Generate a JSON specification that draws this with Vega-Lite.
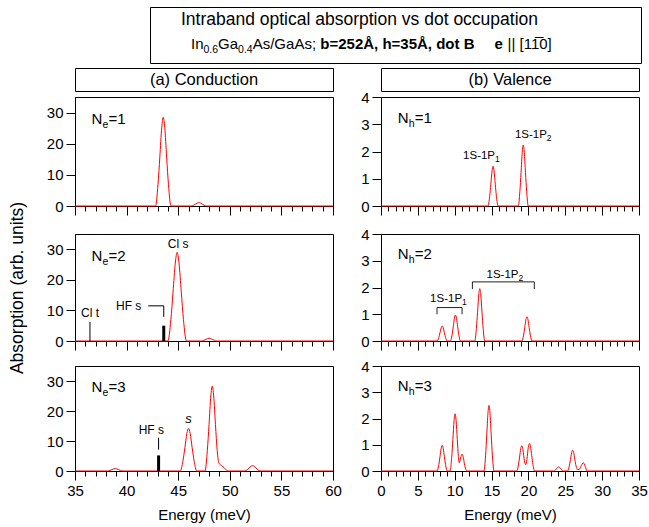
{
"$schema": "https://vega.github.io/schema/vega-lite/v6.json",
"padding": {"left": 7, "top": 6, "right": 5, "bottom": 5},
"background": "white",
"config": {
  "font": "Liberation Sans",
  "view": {"stroke": "#000", "strokeWidth": 1},
  "axis": {"domainColor": "#000", "tickColor": "#000", "labelColor": "#000", "titleColor": "#000", "grid": false, "labelFontSize": 15, "titleFontSize": 15, "titleFontWeight": "normal", "labelPadding": 3, "labelFlush": false},
  "text": {"color": "#000"}
},
"datasets": {
  "c1": [{"E":35,"A":0},{"E":42.8,"A":0},{"E":43.04,"A":6.8},{"E":43.22,"A":15.7},{"E":43.4,"A":25.1},{"E":43.55,"A":28.5},{"E":43.7,"A":25.1},{"E":43.88,"A":15.7},{"E":44.06,"A":6.8},{"E":44.3,"A":0},{"E":46.25,"A":0},{"E":46.49,"A":0.26},{"E":46.67,"A":0.6},{"E":46.85,"A":0.97},{"E":47.0,"A":1.1},{"E":47.15,"A":0.97},{"E":47.33,"A":0.6},{"E":47.51,"A":0.26},{"E":47.75,"A":0},{"E":60,"A":0}],
  "c2": [{"E":35,"A":0},{"E":44.0,"A":0},{"E":44.29,"A":7.0},{"E":44.5,"A":16.0},{"E":44.72,"A":25.5},{"E":44.9,"A":29},{"E":45.08,"A":25.5},{"E":45.3,"A":16.0},{"E":45.51,"A":7.0},{"E":45.8,"A":0},{"E":47.25,"A":0},{"E":47.49,"A":0.22},{"E":47.67,"A":0.5},{"E":47.85,"A":0.79},{"E":48.0,"A":0.9},{"E":48.15,"A":0.79},{"E":48.33,"A":0.5},{"E":48.51,"A":0.22},{"E":48.75,"A":0},{"E":60,"A":0}],
  "c3": [{"E":35,"A":0},{"E":38.15,"A":0},{"E":38.39,"A":0.19},{"E":38.57,"A":0.44},{"E":38.75,"A":0.7},{"E":38.9,"A":0.8},{"E":39.05,"A":0.7},{"E":39.23,"A":0.44},{"E":39.41,"A":0.19},{"E":39.65,"A":0},{"E":45.2,"A":0},{"E":45.46,"A":3.4},{"E":45.65,"A":7.8},{"E":45.84,"A":12.5},{"E":46.0,"A":14.2},{"E":46.16,"A":12.5},{"E":46.35,"A":7.8},{"E":46.54,"A":3.4},{"E":46.8,"A":0},{"E":47.6,"A":0},{"E":47.82,"A":6.8},{"E":47.99,"A":15.5},{"E":48.16,"A":25.0},{"E":48.3,"A":28.3},{"E":48.44,"A":25.0},{"E":48.61,"A":15.5},{"E":48.78,"A":6.8},{"E":48.95,"A":2.6},{"E":49.2,"A":1.8},{"E":49.5,"A":0.9},{"E":49.85,"A":0},{"E":51.45,"A":0},{"E":51.69,"A":0.43},{"E":51.87,"A":0.99},{"E":52.05,"A":1.58},{"E":52.2,"A":1.8},{"E":52.35,"A":1.58},{"E":52.53,"A":0.99},{"E":52.71,"A":0.43},{"E":52.95,"A":0},{"E":60,"A":0}],
  "v1": [{"E":0,"A":0},{"E":14.52,"A":0},{"E":14.74,"A":0.35},{"E":14.9,"A":0.8},{"E":15.06,"A":1.28},{"E":15.2,"A":1.46},{"E":15.34,"A":1.28},{"E":15.5,"A":0.8},{"E":15.66,"A":0.35},{"E":15.88,"A":0},{"E":18.62,"A":0},{"E":18.84,"A":0.54},{"E":19.0,"A":1.23},{"E":19.16,"A":1.97},{"E":19.3,"A":2.24},{"E":19.44,"A":1.97},{"E":19.6,"A":1.23},{"E":19.76,"A":0.54},{"E":19.98,"A":0},{"E":35,"A":0}],
  "v2": [{"E":0,"A":0},{"E":7.62,"A":0},{"E":7.84,"A":0.13},{"E":8.0,"A":0.31},{"E":8.16,"A":0.49},{"E":8.3,"A":0.56},{"E":8.44,"A":0.49},{"E":8.6,"A":0.31},{"E":8.76,"A":0.13},{"E":8.98,"A":0},{"E":9.42,"A":0},{"E":9.64,"A":0.23},{"E":9.8,"A":0.53},{"E":9.96,"A":0.85},{"E":10.1,"A":0.97},{"E":10.24,"A":0.85},{"E":10.4,"A":0.53},{"E":10.56,"A":0.23},{"E":10.78,"A":0},{"E":12.72,"A":0},{"E":12.94,"A":0.47},{"E":13.1,"A":1.08},{"E":13.26,"A":1.72},{"E":13.4,"A":1.96},{"E":13.54,"A":1.72},{"E":13.7,"A":1.08},{"E":13.86,"A":0.47},{"E":14.08,"A":0},{"E":19.12,"A":0},{"E":19.34,"A":0.22},{"E":19.5,"A":0.5},{"E":19.66,"A":0.8},{"E":19.8,"A":0.91},{"E":19.94,"A":0.8},{"E":20.1,"A":0.5},{"E":20.26,"A":0.22},{"E":20.48,"A":0},{"E":35,"A":0}],
  "v3": [{"E":0,"A":0},{"E":7.62,"A":0},{"E":7.84,"A":0.24},{"E":8.0,"A":0.54},{"E":8.16,"A":0.86},{"E":8.3,"A":0.98},{"E":8.44,"A":0.86},{"E":8.6,"A":0.54},{"E":8.76,"A":0.24},{"E":8.98,"A":0},{"E":9.37,"A":0},{"E":9.59,"A":0.52},{"E":9.75,"A":1.2},{"E":9.91,"A":1.92},{"E":10.05,"A":2.18},{"E":10.19,"A":1.92},{"E":10.35,"A":1.2},{"E":10.5,"A":0.55},{"E":10.62,"A":0.31},{"E":10.8,"A":0.5},{"E":11.0,"A":0.64},{"E":11.16,"A":0.52},{"E":11.32,"A":0.27},{"E":11.5,"A":0.07},{"E":11.7,"A":0},{"E":13.97,"A":0},{"E":14.19,"A":0.6},{"E":14.35,"A":1.38},{"E":14.51,"A":2.2},{"E":14.65,"A":2.5},{"E":14.79,"A":2.2},{"E":14.95,"A":1.38},{"E":15.11,"A":0.6},{"E":15.33,"A":0},{"E":18.42,"A":0},{"E":18.64,"A":0.23},{"E":18.8,"A":0.53},{"E":18.96,"A":0.85},{"E":19.1,"A":0.96},{"E":19.26,"A":0.8},{"E":19.45,"A":0.4},{"E":19.62,"A":0.24},{"E":19.8,"A":0.45},{"E":19.98,"A":0.9},{"E":20.15,"A":1.05},{"E":20.29,"A":0.92},{"E":20.45,"A":0.58},{"E":20.61,"A":0.25},{"E":20.83,"A":0},{"E":23.42,"A":0},{"E":23.7,"A":0.05},{"E":23.9,"A":0.12},{"E":24.1,"A":0.15},{"E":24.3,"A":0.12},{"E":24.5,"A":0.05},{"E":24.78,"A":0},{"E":25.32,"A":0},{"E":25.54,"A":0.19},{"E":25.7,"A":0.43},{"E":25.86,"A":0.7},{"E":26.0,"A":0.79},{"E":26.14,"A":0.7},{"E":26.3,"A":0.43},{"E":26.46,"A":0.19},{"E":26.7,"A":0.05},{"E":26.9,"A":0.06},{"E":27.15,"A":0.2},{"E":27.45,"A":0.31},{"E":27.7,"A":0.18},{"E":27.95,"A":0},{"E":35,"A":0}]
},
"bounds": "full",
"spacing": 3,
"vconcat": [
 {"bounds": "flush", "spacing": 48, "hconcat": [
  {"width": 27, "height": 56, "view": {"stroke": null, "fill": "white"}, "data": {"values": [{"t": ""}]}, "mark": "text", "encoding": {"text": {"field": "t"}}},
  {"width": 491, "height": 56, "view": {"style": "cell", "stroke": "#000", "strokeWidth": 1},
   "data": {"values": [{"l1": "Intraband optical absorption vs dot occupation", "a": "In", "b": "0.6", "c": "Ga", "d": "0.4", "e": "As/GaAs;", "f": "b=252Å, h=35Å, dot B", "g": "e", "h": "||", "i": "[11̅0]"}]},
   "layer": [
     {"mark": {"type": "text", "fontSize": 17.5, "align": "center", "baseline": "alphabetic", "dx": -36, "dy": -10}, "encoding": {"text": {"field": "l1"}}},
     {"mark": {"type": "text", "fontSize": 15, "align": "left", "baseline": "alphabetic", "dx": -204.5, "dy": 14.4}, "encoding": {"text": {"field": "a"}}},
     {"mark": {"type": "text", "fontSize": 10.5, "align": "left", "baseline": "alphabetic", "dx": -192, "dy": 18.4}, "encoding": {"text": {"field": "b"}}},
     {"mark": {"type": "text", "fontSize": 15, "align": "left", "baseline": "alphabetic", "dx": -177.4, "dy": 14.4}, "encoding": {"text": {"field": "c"}}},
     {"mark": {"type": "text", "fontSize": 10.5, "align": "left", "baseline": "alphabetic", "dx": -157.4, "dy": 18.4}, "encoding": {"text": {"field": "d"}}},
     {"mark": {"type": "text", "fontSize": 15, "align": "left", "baseline": "alphabetic", "dx": -142.8, "dy": 14.4}, "encoding": {"text": {"field": "e"}}},
     {"mark": {"type": "text", "fontSize": 15, "fontWeight": "bold", "align": "left", "baseline": "alphabetic", "dx": -75.2, "dy": 14.4}, "encoding": {"text": {"field": "f"}}},
     {"mark": {"type": "text", "fontSize": 15, "fontWeight": "bold", "align": "left", "baseline": "alphabetic", "dx": 99, "dy": 14.4}, "encoding": {"text": {"field": "g"}}},
     {"mark": {"type": "text", "fontSize": 15, "align": "left", "baseline": "alphabetic", "dx": 112, "dy": 14.4}, "encoding": {"text": {"field": "h"}}},
     {"mark": {"type": "text", "fontSize": 15, "align": "left", "baseline": "alphabetic", "dx": 124, "dy": 14.4}, "encoding": {"text": {"field": "i"}}}
   ]}
 ]},
 {"bounds": "flush", "columns": 2, "spacing": {"row": 6, "column": 48},
  "concat": [
  {"width": 258, "height": 23, "view": {"style": "cell", "stroke": "#000", "strokeWidth": 1}, "data": {"values": [{"t": "(a) Conduction"}]}, "mark": {"type": "text", "fontSize": 16.5, "baseline": "middle"}, "encoding": {"text": {"field": "t"}}},
  {"width": 258, "height": 23, "view": {"style": "cell", "stroke": "#000", "strokeWidth": 1}, "data": {"values": [{"t": "(b) Valence"}]}, "mark": {"type": "text", "fontSize": 16.5, "baseline": "middle"}, "encoding": {"text": {"field": "t"}}},
  {"width": 258, "height": 109,
   "encoding": {
     "x": {"field": "E", "type": "quantitative", "scale": {"domain": [35, 60], "nice": false, "zero": false}, "axis": {"values": [35,36,37,38,39,40,41,42,43,44,45,46,47,48,49,50,51,52,53,54,55,56,57,58,59,60], "labels": false, "title": null, "tickSize": {"condition": {"test": "datum.value % 5 === 0", "value": 9}, "value": 5}}},
     "y": {"field": "A", "type": "quantitative", "scale": {"domain": [0, 35], "nice": false}, "axis": {"values": [0,10,20,30], "tickSize": 9, "title": null}}
   },
   "layer": [
     {"data": {"name": "c1"}, "mark": {"type": "line", "color": "#ff0000", "strokeWidth": 1, "interpolate": "monotone"}},
     {"data": {"values": [{"E": 36.6, "A": 26.3, "s": "e", "n": "=1"}]}, "layer": [
       {"mark": {"type": "text", "align": "left", "baseline": "alphabetic", "fontSize": 15}, "encoding": {"text": {"value": "N"}}},
       {"mark": {"type": "text", "align": "left", "baseline": "alphabetic", "fontSize": 10.5, "dx": 11, "dy": 4}, "encoding": {"text": {"field": "s"}}},
       {"mark": {"type": "text", "align": "left", "baseline": "alphabetic", "fontSize": 15, "dx": 17}, "encoding": {"text": {"field": "n"}}}
     ]}
   ]},
  {"width": 258, "height": 109,
   "encoding": {
     "x": {"field": "E", "type": "quantitative", "scale": {"domain": [0, 35], "nice": false, "zero": false}, "axis": {"values": [0,1,2,3,4,5,6,7,8,9,10,11,12,13,14,15,16,17,18,19,20,21,22,23,24,25,26,27,28,29,30,31,32,33,34,35], "labels": false, "title": null, "tickSize": {"condition": {"test": "datum.value % 5 === 0", "value": 9}, "value": 5}}},
     "y": {"field": "A", "type": "quantitative", "scale": {"domain": [0, 4], "nice": false}, "axis": {"values": [0,1,2,3,4], "tickSize": 9, "title": null}}
   },
   "layer": [
     {"data": {"name": "v1"}, "mark": {"type": "line", "color": "#ff0000", "strokeWidth": 1, "interpolate": "monotone"}},
     {"data": {"values": [{"E": 15.47, "A": 1.71, "s": "1"}, {"E": 22.5, "A": 2.49, "s": "2"}]}, "layer": [
       {"mark": {"type": "text", "align": "right", "baseline": "alphabetic", "fontSize": 11.5}, "encoding": {"text": {"value": "1S-1P"}}},
       {"mark": {"type": "text", "align": "left", "baseline": "alphabetic", "fontSize": 8.5, "dy": 3}, "encoding": {"text": {"field": "s"}}}
     ]},
     {"data": {"values": [{"E": 2.27, "A": 3.05, "s": "h", "n": "=1"}]}, "layer": [
       {"mark": {"type": "text", "align": "left", "baseline": "alphabetic", "fontSize": 15}, "encoding": {"text": {"value": "N"}}},
       {"mark": {"type": "text", "align": "left", "baseline": "alphabetic", "fontSize": 10.5, "dx": 11, "dy": 4}, "encoding": {"text": {"field": "s"}}},
       {"mark": {"type": "text", "align": "left", "baseline": "alphabetic", "fontSize": 15, "dx": 17}, "encoding": {"text": {"field": "n"}}}
     ]}
   ]},
  {"width": 258, "height": 16, "view": {"stroke": null}, "data": {"values": [{"t": ""}]}, "mark": "text", "encoding": {"text": {"field": "t"}}},
  {"width": 258, "height": 16, "view": {"stroke": null}, "data": {"values": [{"t": ""}]}, "mark": "text", "encoding": {"text": {"field": "t"}}},
  {"width": 258, "height": 107,
   "encoding": {
     "x": {"field": "E", "type": "quantitative", "scale": {"domain": [35, 60], "nice": false, "zero": false}, "axis": {"values": [35,36,37,38,39,40,41,42,43,44,45,46,47,48,49,50,51,52,53,54,55,56,57,58,59,60], "labels": false, "title": null, "tickSize": {"condition": {"test": "datum.value % 5 === 0", "value": 9}, "value": 5}}},
     "y": {"field": "A", "type": "quantitative", "scale": {"domain": [0, 35], "nice": false}, "axis": {"values": [0,10,20,30], "tickSize": 9, "title": "Absorption (arb. units)", "titleFontSize": 17.5, "titlePadding": 20}}
   },
   "layer": [
     {"data": {"name": "c2"}, "mark": {"type": "line", "color": "#ff0000", "strokeWidth": 1, "interpolate": "monotone"}},
     {"data": {"values": [{"E": 43.6, "A": 0, "E2": 43.6, "A2": 5}]}, "mark": {"type": "rule", "color": "#000", "strokeWidth": 3}, "encoding": {"x2": {"field": "E2"}, "y2": {"field": "A2"}}},
     {"data": {"values": [{"E": 36.45, "A": 0, "E2": 36.45, "A2": 6.2}, {"E": 42.1, "A": 11.5, "E2": 43.6, "A2": 11.5}, {"E": 43.6, "A": 11.5, "E2": 43.6, "A2": 7.9}]}, "mark": {"type": "rule", "color": "#000", "strokeWidth": 1}, "encoding": {"x2": {"field": "E2"}, "y2": {"field": "A2"}}},
     {"data": {"values": [{"E": 45.0, "A": 30.3, "t": "Cl s"}, {"E": 36.45, "A": 7.9, "t": "Cl t"}, {"E": 40.2, "A": 10.2, "t": "HF s"}]}, "mark": {"type": "text", "align": "center", "baseline": "alphabetic", "fontSize": 12}, "encoding": {"text": {"field": "t"}}},
     {"data": {"values": [{"E": 36.6, "A": 26.3, "s": "e", "n": "=2"}]}, "layer": [
       {"mark": {"type": "text", "align": "left", "baseline": "alphabetic", "fontSize": 15}, "encoding": {"text": {"value": "N"}}},
       {"mark": {"type": "text", "align": "left", "baseline": "alphabetic", "fontSize": 10.5, "dx": 11, "dy": 4}, "encoding": {"text": {"field": "s"}}},
       {"mark": {"type": "text", "align": "left", "baseline": "alphabetic", "fontSize": 15, "dx": 17}, "encoding": {"text": {"field": "n"}}}
     ]}
   ]},
  {"width": 258, "height": 107,
   "encoding": {
     "x": {"field": "E", "type": "quantitative", "scale": {"domain": [0, 35], "nice": false, "zero": false}, "axis": {"values": [0,1,2,3,4,5,6,7,8,9,10,11,12,13,14,15,16,17,18,19,20,21,22,23,24,25,26,27,28,29,30,31,32,33,34,35], "labels": false, "title": null, "tickSize": {"condition": {"test": "datum.value % 5 === 0", "value": 9}, "value": 5}}},
     "y": {"field": "A", "type": "quantitative", "scale": {"domain": [0, 4], "nice": false}, "axis": {"values": [0,1,2,3,4], "tickSize": 9, "title": null}}
   },
   "layer": [
     {"data": {"name": "v2"}, "mark": {"type": "line", "color": "#ff0000", "strokeWidth": 1, "interpolate": "monotone"}},
     {"data": {"values": [{"E": 7.6, "A": 1.25, "E2": 11.0, "A2": 1.25}, {"E": 7.6, "A": 1.0, "E2": 7.6, "A2": 1.25}, {"E": 11.0, "A": 1.0, "E2": 11.0, "A2": 1.25}, {"E": 12.4, "A": 2.21, "E2": 20.8, "A2": 2.21}, {"E": 12.4, "A": 1.94, "E2": 12.4, "A2": 2.21}, {"E": 20.8, "A": 1.94, "E2": 20.8, "A2": 2.21}]}, "mark": {"type": "rule", "color": "#222", "strokeWidth": 1}, "encoding": {"x2": {"field": "E2"}, "y2": {"field": "A2"}}},
     {"data": {"values": [{"E": 11.0, "A": 1.44, "s": "1"}, {"E": 18.65, "A": 2.37, "s": "2"}]}, "layer": [
       {"mark": {"type": "text", "align": "right", "baseline": "alphabetic", "fontSize": 11.5}, "encoding": {"text": {"value": "1S-1P"}}},
       {"mark": {"type": "text", "align": "left", "baseline": "alphabetic", "fontSize": 8.5, "dy": 3}, "encoding": {"text": {"field": "s"}}}
     ]},
     {"data": {"values": [{"E": 2.27, "A": 3.05, "s": "h", "n": "=2"}]}, "layer": [
       {"mark": {"type": "text", "align": "left", "baseline": "alphabetic", "fontSize": 15}, "encoding": {"text": {"value": "N"}}},
       {"mark": {"type": "text", "align": "left", "baseline": "alphabetic", "fontSize": 10.5, "dx": 11, "dy": 4}, "encoding": {"text": {"field": "s"}}},
       {"mark": {"type": "text", "align": "left", "baseline": "alphabetic", "fontSize": 15, "dx": 17}, "encoding": {"text": {"field": "n"}}}
     ]}
   ]},
  {"width": 258, "height": 13, "view": {"stroke": null}, "data": {"values": [{"t": ""}]}, "mark": "text", "encoding": {"text": {"field": "t"}}},
  {"width": 258, "height": 13, "view": {"stroke": null}, "data": {"values": [{"t": ""}]}, "mark": "text", "encoding": {"text": {"field": "t"}}},
  {"width": 258, "height": 105,
   "encoding": {
     "x": {"field": "E", "type": "quantitative", "scale": {"domain": [35, 60], "nice": false, "zero": false}, "axis": {"values": [35,36,37,38,39,40,41,42,43,44,45,46,47,48,49,50,51,52,53,54,55,56,57,58,59,60], "labelExpr": "datum.value % 5 === 0 ? datum.label : ''", "labelOverlap": false, "title": "Energy (meV)", "titlePadding": 9, "tickSize": {"condition": {"test": "datum.value % 5 === 0", "value": 9}, "value": 5}}},
     "y": {"field": "A", "type": "quantitative", "scale": {"domain": [0, 35], "nice": false}, "axis": {"values": [0,10,20,30], "tickSize": 9, "title": null}}
   },
   "layer": [
     {"data": {"name": "c3"}, "mark": {"type": "line", "color": "#ff0000", "strokeWidth": 1, "interpolate": "monotone"}},
     {"data": {"values": [{"E": 43.1, "A": 0, "E2": 43.1, "A2": 5.2}]}, "mark": {"type": "rule", "color": "#000", "strokeWidth": 3}, "encoding": {"x2": {"field": "E2"}, "y2": {"field": "A2"}}},
     {"data": {"values": [{"E": 43.1, "A": 7.1, "E2": 43.1, "A2": 11.1}]}, "mark": {"type": "rule", "color": "#000", "strokeWidth": 1}, "encoding": {"x2": {"field": "E2"}, "y2": {"field": "A2"}}},
     {"data": {"values": [{"E": 42.4, "A": 12.5, "t": "HF s"}]}, "mark": {"type": "text", "align": "center", "baseline": "alphabetic", "fontSize": 12}, "encoding": {"text": {"field": "t"}}},
     {"data": {"values": [{"E": 46.0, "A": 16.0, "t": "s"}]}, "mark": {"type": "text", "align": "center", "baseline": "alphabetic", "fontSize": 13, "fontStyle": "italic"}, "encoding": {"text": {"field": "t"}}},
     {"data": {"values": [{"E": 36.6, "A": 26.3, "s": "e", "n": "=3"}]}, "layer": [
       {"mark": {"type": "text", "align": "left", "baseline": "alphabetic", "fontSize": 15}, "encoding": {"text": {"value": "N"}}},
       {"mark": {"type": "text", "align": "left", "baseline": "alphabetic", "fontSize": 10.5, "dx": 11, "dy": 4}, "encoding": {"text": {"field": "s"}}},
       {"mark": {"type": "text", "align": "left", "baseline": "alphabetic", "fontSize": 15, "dx": 17}, "encoding": {"text": {"field": "n"}}}
     ]}
   ]},
  {"width": 258, "height": 105,
   "encoding": {
     "x": {"field": "E", "type": "quantitative", "scale": {"domain": [0, 35], "nice": false, "zero": false}, "axis": {"values": [0,1,2,3,4,5,6,7,8,9,10,11,12,13,14,15,16,17,18,19,20,21,22,23,24,25,26,27,28,29,30,31,32,33,34,35], "labelExpr": "datum.value % 5 === 0 ? datum.label : ''", "labelOverlap": false, "title": "Energy (meV)", "titlePadding": 9, "tickSize": {"condition": {"test": "datum.value % 5 === 0", "value": 9}, "value": 5}}},
     "y": {"field": "A", "type": "quantitative", "scale": {"domain": [0, 4], "nice": false}, "axis": {"values": [0,1,2,3,4], "tickSize": 9, "title": null}}
   },
   "layer": [
     {"data": {"name": "v3"}, "mark": {"type": "line", "color": "#ff0000", "strokeWidth": 1, "interpolate": "monotone"}},
     {"data": {"values": [{"E": 2.27, "A": 3.05, "s": "h", "n": "=3"}]}, "layer": [
       {"mark": {"type": "text", "align": "left", "baseline": "alphabetic", "fontSize": 15}, "encoding": {"text": {"value": "N"}}},
       {"mark": {"type": "text", "align": "left", "baseline": "alphabetic", "fontSize": 10.5, "dx": 11, "dy": 4}, "encoding": {"text": {"field": "s"}}},
       {"mark": {"type": "text", "align": "left", "baseline": "alphabetic", "fontSize": 15, "dx": 17}, "encoding": {"text": {"field": "n"}}}
     ]}
   ]}
 ]}
]
}
